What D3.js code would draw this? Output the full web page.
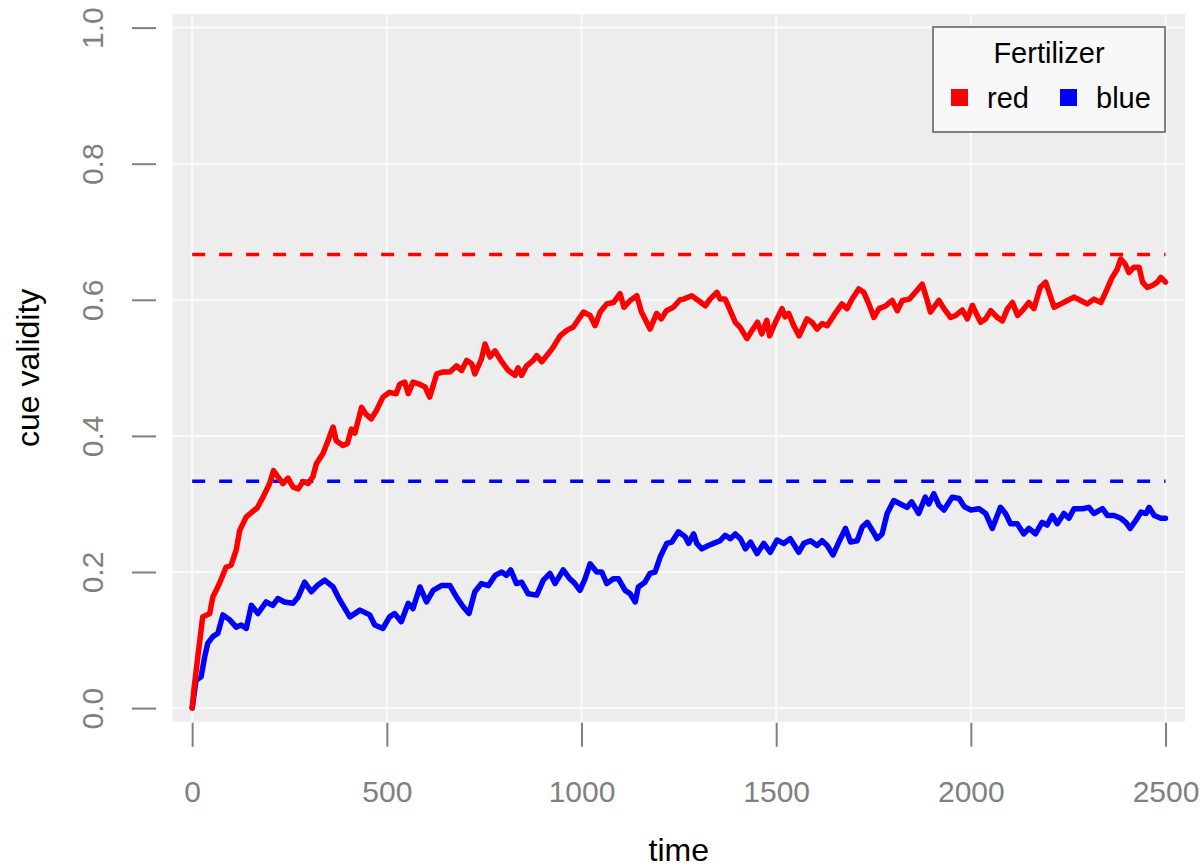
<!DOCTYPE html>
<html>
<head>
<meta charset="utf-8">
<script src="https://cdn.jsdelivr.net/npm/d3@7"></script>
<style>
  body { margin: 0; background: #fff; }
  svg { display: block; font-family: "Liberation Sans", Arial, sans-serif; }
</style>
</head>
<body>
<svg id="chart" width="1203" height="868"></svg>
<script>
// red fertilizer cue validity over time
const redTime = [0, 5, 27, 45, 53, 70, 87, 100, 113, 122, 139, 160, 167, 182, 199, 209, 220, 233, 246, 259, 272, 285, 298,
  310, 319, 336, 349, 362, 370, 387, 399, 409, 418, 435, 446, 460, 473, 490, 507, 524, 533, 546, 555, 567, 584,
  598, 610, 628, 645, 662, 679, 692, 705, 718, 726, 743, 752, 765, 778, 795, 812, 829, 837, 846, 859, 876, 885,
  898, 915, 927, 945, 962, 979, 1005, 1022, 1035, 1048, 1065, 1082, 1099, 1109, 1125, 1142, 1154, 1176, 1193,
  1205, 1218, 1236, 1253, 1262, 1283, 1300, 1318, 1330, 1348, 1356, 1369, 1382, 1395, 1408, 1425, 1438, 1452,
  1463, 1476, 1483, 1498, 1515, 1523, 1532, 1545, 1559, 1579, 1592, 1605, 1618, 1631, 1648, 1669, 1682, 1695,
  1712, 1725, 1738, 1751, 1764, 1781, 1798, 1811, 1824, 1842, 1862, 1875, 1888, 1896, 1918, 1931, 1948, 1961,
  1978, 1991, 2004, 2012, 2025, 2038, 2051, 2068, 2081, 2094, 2107, 2120, 2132, 2149, 2162, 2178, 2192, 2205,
  2214, 2231, 2248, 2265, 2282, 2299, 2316, 2334, 2346, 2363, 2376, 2385, 2396, 2406, 2419, 2432, 2441, 2453,
  2466, 2479, 2488, 2500];
const redValue = [0, 0.03, 0.134, 0.139, 0.163, 0.183, 0.207, 0.21, 0.232, 0.261, 0.281, 0.291, 0.294, 0.31, 0.33, 0.349,
  0.34, 0.33, 0.338, 0.325, 0.322, 0.333, 0.33, 0.34, 0.359, 0.374, 0.393, 0.413, 0.393, 0.386, 0.389, 0.41,
  0.404, 0.442, 0.432, 0.425, 0.437, 0.457, 0.464, 0.462, 0.476, 0.479, 0.462, 0.479, 0.476, 0.472, 0.457,
  0.491, 0.494, 0.494, 0.503, 0.496, 0.511, 0.506, 0.491, 0.513, 0.535, 0.516, 0.525, 0.509, 0.496, 0.489, 0.5,
  0.489, 0.503, 0.511, 0.518, 0.509, 0.521, 0.53, 0.547, 0.555, 0.56, 0.582, 0.577, 0.562, 0.582, 0.594, 0.596,
  0.609, 0.589, 0.599, 0.606, 0.582, 0.557, 0.58, 0.572, 0.584, 0.589, 0.6, 0.601, 0.606, 0.599, 0.591, 0.601,
  0.611, 0.601, 0.601, 0.584, 0.567, 0.559, 0.543, 0.555, 0.567, 0.55, 0.57, 0.547, 0.567, 0.587, 0.575, 0.58,
  0.562, 0.547, 0.572, 0.567, 0.557, 0.565, 0.562, 0.577, 0.594, 0.587, 0.601, 0.616, 0.611, 0.594, 0.574,
  0.587, 0.591, 0.599, 0.584, 0.599, 0.601, 0.614, 0.623, 0.599, 0.582, 0.599, 0.587, 0.574, 0.577, 0.585,
  0.572, 0.592, 0.582, 0.567, 0.572, 0.584, 0.574, 0.569, 0.587, 0.596, 0.577, 0.584, 0.596, 0.587, 0.618,
  0.626, 0.604, 0.589, 0.594, 0.599, 0.604, 0.599, 0.594, 0.601, 0.596, 0.611, 0.633, 0.645, 0.66, 0.653, 0.64,
  0.648, 0.648, 0.626, 0.618, 0.621, 0.626, 0.633, 0.626];

// blue fertilizer cue validity over time
const blueTime = [0, 10, 23, 32, 40, 53, 66, 79, 96, 113, 126, 139, 152, 169, 190, 207, 220, 237, 259, 272, 289, 306,
  323, 340, 362, 379, 405, 431, 456, 469, 490, 507, 520, 537, 555, 567, 585, 602, 619, 640, 662, 679, 696, 711,
  726, 743, 761, 778, 795, 807, 818, 833, 846, 863, 885, 902, 919, 932, 953, 970, 983, 996, 1009, 1022, 1039,
  1052, 1065, 1082, 1095, 1112, 1125, 1138, 1146, 1163, 1176, 1189, 1202, 1219, 1232, 1249, 1266, 1275, 1288,
  1296, 1309, 1326, 1339, 1356, 1369, 1382, 1395, 1408, 1421, 1434, 1451, 1468, 1485, 1502, 1519, 1536, 1558,
  1571, 1588, 1605, 1618, 1631, 1646, 1661, 1678, 1691, 1708, 1721, 1734, 1747, 1759, 1772, 1785, 1802, 1819,
  1836, 1848, 1866, 1883, 1892, 1905, 1918, 1931, 1952, 1970, 1983, 2000, 2021, 2038, 2055, 2076, 2089, 2102,
  2119, 2136, 2149, 2166, 2183, 2196, 2209, 2222, 2239, 2252, 2265, 2287, 2303, 2316, 2338, 2351, 2368, 2385,
  2398, 2409, 2424, 2437, 2450, 2458, 2471, 2488, 2500];
const blueValue = [0, 0.041, 0.046, 0.075, 0.095, 0.105, 0.11, 0.137, 0.13, 0.119, 0.122, 0.117, 0.151, 0.139, 0.156,
  0.151, 0.161, 0.156, 0.154, 0.163, 0.185, 0.171, 0.181, 0.188, 0.178, 0.159, 0.134, 0.144, 0.137, 0.122,
  0.117, 0.134, 0.139, 0.127, 0.154, 0.146, 0.178, 0.156, 0.173, 0.18, 0.18, 0.163, 0.149, 0.139, 0.171, 0.183,
  0.18, 0.195, 0.2, 0.195, 0.203, 0.183, 0.185, 0.168, 0.166, 0.188, 0.198, 0.183, 0.203, 0.19, 0.183, 0.173,
  0.19, 0.212, 0.2, 0.2, 0.183, 0.19, 0.19, 0.173, 0.168, 0.156, 0.178, 0.185, 0.198, 0.2, 0.222, 0.242, 0.244,
  0.259, 0.252, 0.242, 0.256, 0.242, 0.234, 0.239, 0.242, 0.246, 0.254, 0.249, 0.256, 0.249, 0.234, 0.244,
  0.227, 0.242, 0.229, 0.247, 0.242, 0.249, 0.229, 0.242, 0.246, 0.239, 0.246, 0.239, 0.225, 0.244, 0.264,
  0.244, 0.246, 0.266, 0.273, 0.261, 0.249, 0.256, 0.286, 0.305, 0.3, 0.295, 0.303, 0.286, 0.31, 0.3, 0.315,
  0.298, 0.291, 0.31, 0.308, 0.296, 0.291, 0.293, 0.286, 0.264, 0.295, 0.286, 0.271, 0.271, 0.256, 0.264,
  0.256, 0.273, 0.269, 0.283, 0.271, 0.286, 0.279, 0.293, 0.293, 0.295, 0.286, 0.293, 0.283, 0.283, 0.279,
  0.273, 0.264, 0.276, 0.288, 0.286, 0.295, 0.283, 0.279, 0.279];

// expected (asymptotic) validities, drawn dashed
const expected = [{ name: 'red', value: 2 / 3 }, { name: 'blue', value: 1 / 3 }];
const legendNames = ['red', 'blue'];
const xTicks = [0, 500, 1000, 1500, 2000, 2500];
const yTicks = [0, 0.2, 0.4, 0.6, 0.8, 1.0];

const colors = { red: '#ff0000', blue: '#0000ff' };
const axisGray = '#808080';

const svg = d3.select('#chart');

const x = d3.scaleLinear().domain([-50, 2550]).range([172.7, 1185]);
const y = d3.scaleLinear().domain([-0.02, 1.02]).range([721.7, 14]);

// panel
svg.append('rect')
  .attr('x', x(-50)).attr('y', y(1.02))
  .attr('width', x(2550) - x(-50)).attr('height', y(-0.02) - y(1.02))
  .attr('fill', '#ededed');

const grid = svg.append('g').attr('stroke', '#fbfbfb').attr('stroke-width', 2);
grid.selectAll('line.gx').data(xTicks).enter().append('line')
  .attr('class', 'gx')
  .attr('x1', d => x(d)).attr('x2', d => x(d))
  .attr('y1', y(-0.02)).attr('y2', y(1.02));
grid.selectAll('line.gy').data(yTicks).enter().append('line')
  .attr('class', 'gy')
  .attr('y1', d => y(d)).attr('y2', d => y(d))
  .attr('x1', x(-50)).attr('x2', x(2550));

// axes (R style, ticks detached from the panel)
const xAxis = d3.axisBottom(x).tickValues(xTicks).tickSize(24).tickPadding(34).tickFormat(d3.format('d'));
const gx = svg.append('g').attr('transform', `translate(0,${y(-0.02) + 1})`).call(xAxis);
gx.select('.domain').remove();
gx.selectAll('line').attr('stroke', axisGray).attr('stroke-width', 2);
gx.selectAll('text').attr('fill', axisGray).attr('font-size', 30)
  .attr('font-family', '"Liberation Sans", Arial, sans-serif');

const yAxis = d3.axisLeft(y).tickValues(yTicks).tickSize(24).tickFormat(d3.format('.1f'));
const gy = svg.append('g').attr('transform', 'translate(156,0)').call(yAxis);
gy.select('.domain').remove();
gy.selectAll('line').attr('stroke', axisGray).attr('stroke-width', 2);
gy.selectAll('text')
  .attr('fill', axisGray).attr('font-size', 30)
  .attr('font-family', '"Liberation Sans", Arial, sans-serif')
  .attr('text-anchor', 'middle').attr('dy', null)
  .attr('x', null).attr('y', null)
  .attr('transform', 'translate(-53,0) rotate(-90)');

// axis titles
svg.append('text')
  .attr('x', (x(-50) + x(2550)) / 2).attr('y', 861)
  .attr('text-anchor', 'middle').attr('font-size', 32).attr('fill', '#000')
  .text('time');
svg.append('text')
  .attr('transform', `translate(39,${(y(-0.02) + y(1.02)) / 2}) rotate(-90)`)
  .attr('text-anchor', 'middle').attr('font-size', 32).attr('fill', '#000')
  .text('cue validity');

// dashed reference lines
svg.append('g').selectAll('line').data(expected).enter().append('line')
  .attr('x1', x(0)).attr('x2', x(2500))
  .attr('y1', d => y(d.value)).attr('y2', d => y(d.value))
  .attr('stroke', d => colors[d.name])
  .attr('stroke-width', 3.5)
  .attr('stroke-dasharray', '13,14');

// series lines
const line = d3.line().x(d => x(d[0])).y(d => y(d[1]));
const series = [
  { name: 'blue', points: d3.zip(blueTime, blueValue) },
  { name: 'red', points: d3.zip(redTime, redValue) },
];
svg.append('g').selectAll('path').data(series).enter().append('path')
  .attr('d', d => line(d.points))
  .attr('fill', 'none')
  .attr('stroke', d => colors[d.name])
  .attr('stroke-width', 5.5)
  .attr('stroke-linejoin', 'round')
  .attr('stroke-linecap', 'round');

// legend
const legend = svg.append('g');
legend.append('rect')
  .attr('x', 933).attr('y', 27).attr('width', 232).attr('height', 105)
  .attr('fill', '#f8f8f8').attr('stroke', '#808080').attr('stroke-width', 2);
legend.append('text')
  .attr('x', 1049).attr('y', 63).attr('text-anchor', 'middle')
  .attr('font-size', 29).attr('fill', '#000')
  .text('Fertilizer');
const legendX = [951, 1060];
const items = legend.selectAll('g.item').data(legendNames).enter().append('g')
  .attr('class', 'item')
  .attr('transform', (d, i) => `translate(${legendX[i]},89)`);
items.append('rect').attr('width', 17).attr('height', 17).attr('fill', d => colors[d]);
items.append('text').attr('x', 36).attr('y', 19)
  .attr('font-size', 29).attr('fill', '#000')
  .text(d => d);
</script>
</body>
</html>
